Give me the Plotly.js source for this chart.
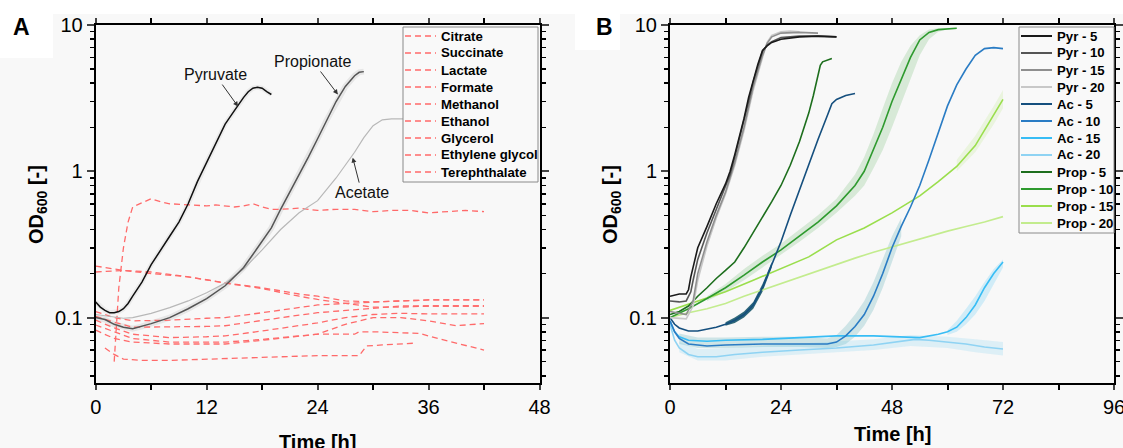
<!DOCTYPE html>
<html><head><meta charset="utf-8">
<script src="https://cdn.plot.ly/plotly-3.0.1.min.js"></script>
<style>html,body{margin:0;padding:0;background:#f8f8f8}</style>
</head><body><div id="chart" style="width:1123px;height:448px"></div>
<script>
// ---------- Panel A data ----------
const pyrT  = [0,0.5,1,1.5,2,2.5,3,3.5,4,5,6,7,8,9,10,11,12,13,14,15,15.5,16,16.5,17,17.5,18,18.5,19];
const pyrOD = [0.128,0.118,0.112,0.108,0.108,0.11,0.115,0.125,0.14,0.175,0.23,0.29,0.36,0.45,0.6,0.85,1.15,1.55,2.1,2.6,2.9,3.2,3.5,3.7,3.75,3.7,3.5,3.35];
const propT  = [0,1,2,3,4,5,6,8,10,12,14,15,16,17,18,19,20,21,22,23,24,25,26,27,28,28.5,29];
const propOD = [0.1,0.097,0.09,0.086,0.084,0.087,0.091,0.1,0.115,0.135,0.165,0.19,0.22,0.27,0.33,0.41,0.55,0.72,0.95,1.25,1.67,2.25,3.0,3.8,4.5,4.75,4.8];
const aceT  = [0,1,2,3,4,6,8,10,12,14,16,18,20,22,24,26,28,29,30,31,32,36,42];
const aceOD = [0.105,0.103,0.1,0.099,0.1,0.107,0.117,0.13,0.148,0.172,0.215,0.29,0.4,0.52,0.63,0.9,1.35,1.7,2.05,2.25,2.28,2.28,2.28];

const redNames = ['Citrate','Succinate','Lactate','Formate','Methanol','Ethanol','Glycerol','Ethylene glycol','Terephthalate'];
const citT  = [2,2.5,3,3.5,4,5,6,7,8,10,12,13,14,15,16,17,18,19,20,22,24,26,28,30,32,34,36,38,40,42];
const citOD = [0.05,0.16,0.3,0.45,0.57,0.61,0.65,0.62,0.6,0.59,0.58,0.59,0.58,0.57,0.58,0.6,0.57,0.55,0.55,0.56,0.54,0.55,0.55,0.53,0.54,0.54,0.52,0.53,0.54,0.53];
const sucT  = [0,3,6,10,14,18,22,24,27,30,33,36,39,42];
const sucOD = [0.225,0.21,0.2,0.19,0.173,0.16,0.145,0.14,0.13,0.128,0.13,0.132,0.132,0.132];
const lacT  = [0,3,6,10,14,18,22,24,27,30,33,36,39,42];
const lacOD = [0.205,0.21,0.205,0.19,0.172,0.158,0.14,0.133,0.125,0.118,0.118,0.12,0.12,0.12];
const forT  = [0,2,4,8,12,14,18,22,24,27,30,33,36,42];
const forOD = [0.11,0.1,0.095,0.096,0.099,0.1,0.108,0.117,0.122,0.125,0.128,0.13,0.132,0.132];
const metT  = [0,2,4,8,12,14,18,22,24,27,30,33,36,42];
const metOD = [0.102,0.093,0.086,0.086,0.087,0.088,0.096,0.104,0.108,0.112,0.116,0.12,0.12,0.12];
const ethT  = [0,2,4,8,12,14,18,22,24,27,30,33,36,42];
const ethOD = [0.096,0.085,0.077,0.073,0.074,0.075,0.081,0.088,0.092,0.1,0.105,0.107,0.106,0.106];
const glyT  = [0,2,4,8,12,14,18,22,24,27,30,33,36,39,42];
const glyOD = [0.089,0.08,0.072,0.068,0.068,0.068,0.071,0.075,0.077,0.09,0.1,0.1,0.095,0.088,0.091];
const egT   = [0,2,4,8,12,14,18,22,24,28,28.5,30,33,35,37,39,41,42];
const egOD  = [0.082,0.072,0.068,0.066,0.066,0.066,0.07,0.075,0.077,0.077,0.08,0.08,0.079,0.078,0.072,0.067,0.062,0.06];
const terT  = [1,2,3,5,8,12,16,20,24,28.5,29.3,31,33,34.7];
const terOD = [0.062,0.056,0.052,0.051,0.051,0.052,0.053,0.054,0.055,0.055,0.064,0.065,0.066,0.067];
const redT  = [citT,sucT,lacT,forT,metT,ethT,glyT,egT,terT];
const redOD = [citOD,sucOD,lacOD,forOD,metOD,ethOD,glyOD,egOD,terOD];

// ---------- Panel B data ----------
const bNames = ['Pyr - 5','Pyr - 10','Pyr - 15','Pyr - 20','Ac - 5','Ac - 10','Ac - 15','Ac - 20','Prop - 5','Prop - 10','Prop - 15','Prop - 20'];
const bColors = ['#1a1a1a','#555555','#8f8f8f','#c8c8c8','#154f7e','#2a7cc4','#38bdf5','#8fd3f3','#1d6e1d','#2e9a2e','#9ade4c','#c3ec8e'];
const p5T  = [0,2,3.5,4,4.5,5,6,8,10,12,13,14,15,16,17,18,19,20,21,22,24,28,32,36];
const p5OD = [0.14,0.145,0.145,0.155,0.19,0.22,0.3,0.42,0.6,0.82,1.0,1.3,1.7,2.3,3.2,4.2,5.4,6.7,7.2,7.6,8.0,8.3,8.4,8.3];
const p10T  = [0,2,3.5,4.5,5,6,8,10,12,13,14,15,16,17,18,19,20,21,22,24,28,32,36];
const p10OD = [0.13,0.128,0.13,0.15,0.18,0.25,0.38,0.55,0.78,0.95,1.25,1.65,2.2,3.0,4.1,5.3,6.6,7.3,7.7,8.2,8.4,8.4,8.3];
const p15T  = [0,3.5,5,6,8,10,12,14,16,18,20,21,22,24,28,32];
const p15OD = [0.11,0.105,0.13,0.2,0.33,0.5,0.72,1.15,2.0,3.8,6.2,7.5,8.3,8.8,8.9,8.8];
const p20T  = [0,3.5,5,6,8,10,12,14,16,18,20,21,22,24,26,28];
const p20OD = [0.1,0.098,0.12,0.18,0.31,0.48,0.7,1.1,1.9,3.6,6.0,7.6,8.5,9.0,9.1,9.0];
const a5T  = [0,1,2,4,6,8,10,12,14,16,18,20,22,24,26,28,30,32,34,35,36,38,40];
const a5OD = [0.1,0.09,0.085,0.081,0.081,0.083,0.086,0.09,0.096,0.105,0.122,0.16,0.23,0.33,0.5,0.75,1.1,1.65,2.4,2.9,3.1,3.3,3.4];
const a10T  = [0,1,2,4,8,12,20,28,34,36,38,40,42,44,46,48,50,52,54,56,58,60,62,64,66,68,70,72];
const a10OD = [0.095,0.08,0.072,0.066,0.064,0.065,0.066,0.066,0.066,0.068,0.075,0.087,0.105,0.14,0.2,0.3,0.42,0.57,0.8,1.2,1.85,2.8,3.9,5.0,6.2,6.9,7.0,6.9];
const a15T  = [0,1,2,4,8,12,20,28,36,44,50,54,58,60,62,64,66,68,70,72];
const a15OD = [0.095,0.08,0.074,0.07,0.069,0.07,0.071,0.073,0.075,0.075,0.074,0.073,0.077,0.08,0.086,0.1,0.122,0.16,0.2,0.24];
const a20T  = [0,1,2,4,6,10,14,20,28,36,44,50,53,56,60,64,68,72];
const a20OD = [0.09,0.07,0.062,0.056,0.054,0.054,0.056,0.058,0.06,0.062,0.065,0.069,0.071,0.07,0.068,0.066,0.063,0.061];
const r5T  = [0,2,4,6,8,10,12,14,16,18,20,22,24,26,28,30,31,32,32.5,33,35];
const r5OD = [0.105,0.11,0.12,0.14,0.16,0.185,0.21,0.24,0.3,0.38,0.48,0.62,0.8,1.1,1.6,2.5,3.3,4.5,5.3,5.6,5.9];
const r10T  = [0,4,8,12,16,20,24,28,32,36,38,40,42,44,46,48,50,52,54,56,58,60,62];
const r10OD = [0.1,0.115,0.135,0.16,0.195,0.24,0.29,0.36,0.45,0.58,0.68,0.8,1.0,1.4,2.0,3.0,4.3,6.0,7.9,8.9,9.3,9.4,9.5];
const r15T  = [0,6,12,18,24,30,36,42,48,54,58,62,66,70,72];
const r15OD = [0.112,0.13,0.15,0.18,0.215,0.26,0.34,0.41,0.52,0.68,0.85,1.08,1.5,2.4,3.1];
const r20T  = [0,4,8,12,16,20,24,28,32,36,40,44,48,52,56,60,64,68,72];
const r20OD = [0.1,0.108,0.115,0.125,0.14,0.155,0.17,0.19,0.21,0.23,0.255,0.28,0.305,0.33,0.36,0.39,0.42,0.45,0.49];
const bT  = [p5T,p10T,p15T,p20T,a5T,a10T,a15T,a20T,r5T,r10T,r15T,r20T];
const bOD = [p5OD,p10OD,p15OD,p20OD,a5OD,a10OD,a15OD,a20OD,r5OD,r10OD,r15OD,r20OD];

// shaded spread bands (lower / upper edges)
const bandR10T  = [8,12,16,20,24,28,32,36,40,42,44,46,48,50,52,54,56,58,60,62];
const bandR10Lo = [0.13,0.15,0.18,0.22,0.27,0.33,0.41,0.52,0.68,0.8,1.05,1.4,2.0,2.9,4.2,6.2,8.0,9.0,9.3,9.4];
const bandR10Hi = [0.14,0.17,0.215,0.265,0.32,0.4,0.5,0.65,0.95,1.25,1.8,2.7,4.0,5.6,7.2,8.5,9.3,9.5,9.5,9.6];
const bandA10T  = [2,6,12,20,28,34,36,38,40,42,44,46,48,50];
const bandA10Lo = [0.066,0.062,0.062,0.063,0.063,0.062,0.063,0.066,0.074,0.088,0.113,0.16,0.24,0.36];
const bandA10Hi = [0.078,0.073,0.073,0.074,0.074,0.072,0.076,0.088,0.105,0.13,0.175,0.25,0.36,0.48];
const bandA20T  = [2,6,12,20,28,36,44,52,60,66,72];
const bandA20Lo = [0.058,0.051,0.051,0.054,0.056,0.058,0.06,0.064,0.062,0.058,0.055];
const bandA20Hi = [0.068,0.061,0.062,0.064,0.066,0.068,0.071,0.076,0.074,0.071,0.068];
const bandA15T  = [60,62,64,66,68,70,72];
const bandA15Lo = [0.076,0.08,0.09,0.105,0.13,0.17,0.22];
const bandA15Hi = [0.082,0.095,0.115,0.14,0.175,0.215,0.25];
const bandA5T   = [12,14,16,18,20,22];
const bandA5Lo  = [0.088,0.092,0.1,0.115,0.15,0.22];
const bandA5Hi  = [0.093,0.1,0.11,0.128,0.17,0.24];
const bandR15T  = [62,66,70,72];
const bandR15Lo = [1.0,1.35,2.1,2.7];
const bandR15Hi = [1.2,1.75,2.8,3.6];

const xTicksA = [0,12,24,36,48];
const xTicksB = [0,24,48,72,96];
const yTickVals = [0.1,1,10];
const yTickText = ['0.1','1','10'];
const yMinor = [0.04,0.05,0.06,0.07,0.08,0.09,0.2,0.3,0.4,0.5,0.6,0.7,0.8,0.9,2,3,4,5,6,7,8,9];

// ---------- traces ----------
const traces = [];
function band(t, lo, hi, color, xa, ya) {
  traces.push({x:t, y:lo, xaxis:xa, yaxis:ya, mode:'lines', line:{width:0, color:color}, showlegend:false, hoverinfo:'skip'});
  traces.push({x:t, y:hi, xaxis:xa, yaxis:ya, mode:'lines', line:{width:0, color:color}, fill:'tonexty', fillcolor:color, showlegend:false, hoverinfo:'skip'});
}
// Panel A halos and lines
traces.push({x:pyrT, y:pyrOD, xaxis:'x', yaxis:'y', mode:'lines', line:{color:'rgba(0,0,0,0.05)', width:5}, showlegend:false, hoverinfo:'skip'});
traces.push({x:propT, y:propOD, xaxis:'x', yaxis:'y', mode:'lines', line:{color:'rgba(0,0,0,0.07)', width:6}, showlegend:false, hoverinfo:'skip'});
const redColor = '#ff6a6a', redDash = '6px,4px';
for (let i = 0; i < redNames.length; i++) {
  traces.push({x:redT[i], y:redOD[i], xaxis:'x', yaxis:'y', mode:'lines', name:redNames[i],
    line:{color:redColor, width:1.3, dash:redDash}, showlegend:false});
}
traces.push({x:aceT, y:aceOD, xaxis:'x', yaxis:'y', mode:'lines', line:{color:'#b8b8b8', width:1.2}, showlegend:false});
traces.push({x:propT, y:propOD, xaxis:'x', yaxis:'y', mode:'lines', line:{color:'#555555', width:1.5}, showlegend:false});
traces.push({x:pyrT, y:pyrOD, xaxis:'x', yaxis:'y', mode:'lines', line:{color:'#111111', width:1.5}, showlegend:false});

// Panel B bands
band(bandR10T, bandR10Lo, bandR10Hi, 'rgba(46,154,46,0.16)', 'x2', 'y2');
band(bandA10T, bandA10Lo, bandA10Hi, 'rgba(40,150,160,0.2)', 'x2', 'y2');
band(bandA20T, bandA20Lo, bandA20Hi, 'rgba(100,200,240,0.18)', 'x2', 'y2');
band(bandA15T, bandA15Lo, bandA15Hi, 'rgba(56,189,245,0.2)', 'x2', 'y2');
band(bandA5T, bandA5Lo, bandA5Hi, 'rgba(11,77,99,0.85)', 'x2', 'y2');
band(bandR15T, bandR15Lo, bandR15Hi, 'rgba(154,222,76,0.15)', 'x2', 'y2');
for (let i = bNames.length - 1; i >= 0; i--) {
  traces.push({x:bT[i], y:bOD[i], xaxis:'x2', yaxis:'y2', mode:'lines', name:bNames[i],
    line:{color:bColors[i], width:1.6}, showlegend:false});
}

// ---------- layout ----------
const W = 1123, H = 448;
const FAM = 'Liberation Sans, Arial, sans-serif';
const tickFont = {family:FAM, size:20, color:'#000'};
function xax(x0, x1, range, ticks, anchor) {
  return {domain:[x0/W, x1/W], range:range, anchor:anchor, tickvals:ticks, ticks:'outside', ticklen:5, tickwidth:2,
    showline:true, linewidth:2, linecolor:'#000', mirror:'allticks', showgrid:false, zeroline:false,
    tickfont:tickFont, ticklabeloverflow:'allow',
    minor:{dtick:(range[1]-range[0])/8, tick0:0, ticks:'outside', ticklen:5, tickwidth:2, tickcolor:'#000', showgrid:false}};
}
function yax(anchor) {
  return {domain:[1-383/H, 1-25/H], type:'log', range:[-1.447, 1], anchor:anchor, tickvals:yTickVals, ticktext:yTickText,
    ticks:'outside', ticklen:7, tickwidth:2, showline:true, linewidth:2, linecolor:'#000', mirror:'allticks',
    showgrid:false, zeroline:false, tickfont:tickFont,
    minor:{tickvals:yMinor, ticks:'outside', ticklen:4, tickwidth:1.5, tickcolor:'#000', showgrid:false}};
}
const boldF = (s) => ({family:FAM, size:s, color:'#000', weight:'bold'});

const shapes = [
  {type:'rect', xref:'paper', yref:'paper', x0:0, x1:1, y0:1-14/H, y1:1, fillcolor:'#ffffff', line:{width:0}, layer:'below'},
  {type:'rect', xref:'paper', yref:'paper', x0:0, x1:53/W, y0:1-58/H, y1:1, fillcolor:'#ffffff', line:{width:0}, layer:'below'},
  {type:'rect', xref:'paper', yref:'paper', x0:575/W, x1:620/W, y0:1-50/H, y1:1, fillcolor:'#ffffff', line:{width:0}, layer:'below'}
];
const annotations = [
  {text:'A', xref:'paper', yref:'paper', x:21/W, y:1-27/H, showarrow:false, font:boldF(23), xanchor:'center', yanchor:'middle'},
  {text:'B', xref:'paper', yref:'paper', x:604/W, y:1-27/H, showarrow:false, font:boldF(23), xanchor:'center', yanchor:'middle'},
  {text:'OD<sub>600</sub> [-]', xref:'paper', yref:'paper', x:37/W, y:1-205/H, textangle:-90, showarrow:false, font:boldF(20), xanchor:'center', yanchor:'middle'},
  {text:'OD<sub>600</sub> [-]', xref:'paper', yref:'paper', x:611/W, y:1-205/H, textangle:-90, showarrow:false, font:boldF(20), xanchor:'center', yanchor:'middle'},
  {text:'Time [h]', xref:'paper', yref:'paper', x:317.6/W, y:1-442/H, showarrow:false, font:boldF(20), xanchor:'center', yanchor:'middle'},
  {text:'Time [h]', xref:'paper', yref:'paper', x:892/W, y:1-434/H, showarrow:false, font:boldF(20), xanchor:'center', yanchor:'middle'},
  {text:'Pyruvate', xref:'x', yref:'y', x:15.4, y:Math.log10(2.77), ax:-23, ay:-32, showarrow:true, arrowhead:2, arrowsize:1, arrowwidth:1, arrowcolor:'#333', font:{family:FAM, size:16, color:'#111'}},
  {text:'Propionate', xref:'x', yref:'y', x:26.2, y:Math.log10(3.35), ax:-25, ay:-33, showarrow:true, arrowhead:2, arrowsize:1, arrowwidth:1, arrowcolor:'#333', font:{family:FAM, size:16, color:'#111'}},
  {text:'Acetate', xref:'x', yref:'y', x:27.8, y:Math.log10(1.24), ax:9, ay:35, showarrow:true, arrowhead:2, arrowsize:1, arrowwidth:1, arrowcolor:'#333', font:{family:FAM, size:16, color:'#111'}}
];

// manual legends (box, line samples, labels) built from the series names/colours
function legendBox(x0, x1, y0, names, colors, dash) {
  const rowH = 17, top = y0, bottom = y0 + 9 + rowH * (names.length - 1) + 10;
  shapes.push({type:'rect', xref:'paper', yref:'paper', x0:x0/W, x1:x1/W, y0:1-bottom/H, y1:1-top/H,
    fillcolor:'#f9f9f9', line:{color:'#8a8a8a', width:1}, layer:'above'});
  names.forEach((n, i) => {
    const yc = top + 9 + rowH * i;
    shapes.push({type:'line', xref:'paper', yref:'paper', x0:(x0+2)/W, x1:(x0+33)/W, y0:1-yc/H, y1:1-yc/H,
      line:{color:colors[i], width:dash ? 1.3 : 2, dash:dash || 'solid'}, layer:'above'});
    annotations.push({text:n, xref:'paper', yref:'paper', x:(x0+36)/W, y:1-yc/H, xanchor:'left', yanchor:'middle',
      showarrow:false, font:boldF(13.2)});
  });
}
legendBox(403, 538, 27, redNames, redNames.map(() => redColor), redDash);
legendBox(1019, 1114, 27, bNames, bColors, null);

const layout = {
  width:W, height:H, margin:{l:0, r:0, t:0, b:0},
  paper_bgcolor:'#f8f8f8', plot_bgcolor:'#f8f8f8',
  showlegend:false,
  xaxis: xax(95.7, 539.5, [0,48], xTicksA, 'y'),
  yaxis: yax('x'),
  xaxis2: xax(670, 1114, [0,96], xTicksB, 'y2'),
  yaxis2: yax('x2'),
  shapes: shapes,
  annotations: annotations
};
Plotly.newPlot('chart', traces, layout, {staticPlot:true, displayModeBar:false});
</script></body></html>
